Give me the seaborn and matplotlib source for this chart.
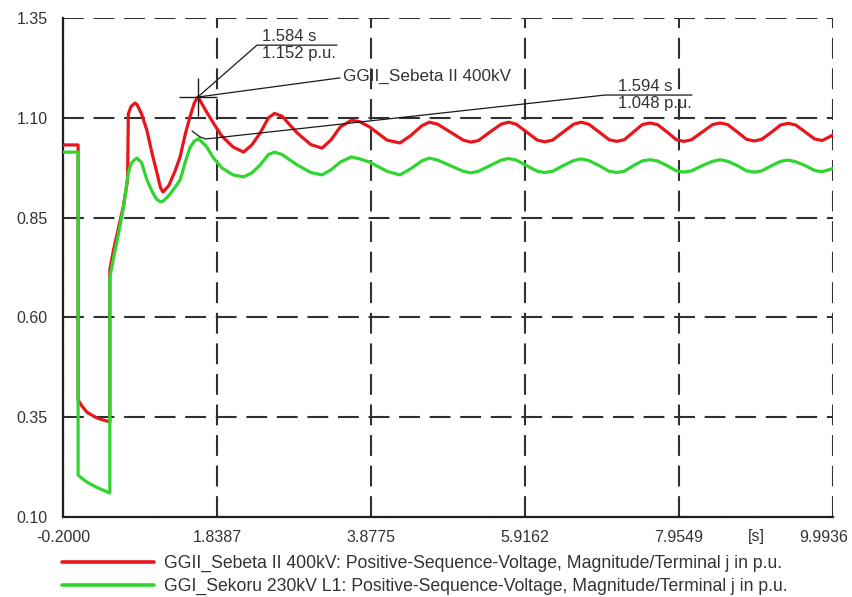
import matplotlib
matplotlib.use("Agg")
import matplotlib.pyplot as plt
from matplotlib.ticker import FixedLocator, FixedFormatter
from matplotlib.transforms import ScaledTranslation
import pandas as pd
import seaborn as sns

# Simulation time [s]
time_s = [
    -0.2, 0.0, 0.0, 0.05, 0.12, 0.25, 0.42, 0.42, 0.47, 0.53, 0.60, 0.655,
    0.665, 0.70, 0.753, 0.78, 0.84, 0.91, 0.98, 1.044, 1.09, 1.124, 1.20, 1.28,
    1.35, 1.42, 1.48, 1.54, 1.584, 1.594, 1.70, 1.79, 1.90, 2.05, 2.19, 2.30,
    2.41, 2.52, 2.60, 2.70, 2.90, 3.08, 3.23, 3.35, 3.47, 3.62, 3.73, 3.86,
    4.09, 4.26, 4.40, 4.55, 4.65, 4.76, 4.93, 5.10, 5.20, 5.30, 5.45, 5.60,
    5.70, 5.80, 5.94, 6.08, 6.18, 6.28, 6.42, 6.56, 6.66, 6.76, 6.90, 7.03,
    7.13, 7.23, 7.35, 7.47, 7.57, 7.67, 7.80, 7.92, 8.02, 8.12, 8.26, 8.40,
    8.50, 8.60, 8.73, 8.85, 8.95, 9.05, 9.18, 9.30, 9.40, 9.50, 9.63, 9.75,
    9.85, 9.9936,
]

# Positive-sequence voltage, GGII Sebeta II 400 kV [p.u.]
sebeta_pu = [
    1.032, 1.032, 0.393, 0.378, 0.362, 0.348, 0.338, 0.720, 0.770, 0.820, 0.880, 0.945,
    1.110, 1.128, 1.137, 1.133, 1.110, 1.069, 1.010, 0.962, 0.925, 0.914, 0.930, 0.965,
    1.002, 1.060, 1.102, 1.138, 1.152, 1.150, 1.115, 1.087, 1.055, 1.027, 1.014, 1.032,
    1.062, 1.100, 1.111, 1.104, 1.062, 1.033, 1.024, 1.045, 1.077, 1.094, 1.090, 1.077,
    1.044, 1.037, 1.055, 1.080, 1.089, 1.084, 1.064, 1.044, 1.039, 1.043, 1.064, 1.084,
    1.089, 1.084, 1.064, 1.044, 1.040, 1.044, 1.064, 1.084, 1.089, 1.084, 1.064, 1.045,
    1.041, 1.045, 1.064, 1.083, 1.087, 1.083, 1.064, 1.045, 1.041, 1.045, 1.064, 1.083,
    1.087, 1.083, 1.064, 1.046, 1.042, 1.046, 1.064, 1.082, 1.086, 1.082, 1.064, 1.047,
    1.043, 1.057,
]

# Positive-sequence voltage, GGI Sekoru 230 kV L1 [p.u.]
sekoru_pu = [
    1.014, 1.014, 0.205, 0.197, 0.187, 0.174, 0.160, 0.700, 0.750, 0.805, 0.875, 0.950,
    0.962, 0.985, 0.996, 0.999, 0.988, 0.945, 0.915, 0.895, 0.890, 0.891, 0.905, 0.925,
    0.944, 0.990, 1.025, 1.042, 1.046, 1.048, 1.028, 1.000, 0.975, 0.957, 0.952, 0.962,
    0.982, 1.008, 1.014, 1.008, 0.982, 0.963, 0.957, 0.970, 0.989, 1.002, 0.997, 0.989,
    0.966, 0.957, 0.972, 0.992, 0.999, 0.994, 0.980, 0.966, 0.962, 0.966, 0.980, 0.994,
    0.998, 0.994, 0.980, 0.966, 0.963, 0.966, 0.980, 0.993, 0.997, 0.993, 0.980, 0.966,
    0.963, 0.966, 0.980, 0.992, 0.995, 0.992, 0.980, 0.967, 0.964, 0.967, 0.980, 0.991,
    0.995, 0.991, 0.980, 0.967, 0.964, 0.967, 0.980, 0.991, 0.994, 0.990, 0.980, 0.968,
    0.965, 0.973,
]

series_names = [
    "GGII_Sebeta II 400kV: Positive-Sequence-Voltage, Magnitude/Terminal j in p.u.",
    "GGI_Sekoru 230kV L1: Positive-Sequence-Voltage, Magnitude/Terminal j in p.u.",
]
series_colors = ["#e8161c", "#30d630"]
sebeta_tag = "GGII_Sebeta II 400kV"

x_ticks = [-0.2, 1.8387, 3.8775, 5.9162, 7.9549, 9.9936]
x_minor_ticks = [0.81935, 2.8581, 4.89685, 6.93555, 8.97425]
x_unit_label = "[s]"
y_ticks = [0.10, 0.35, 0.60, 0.85, 1.10, 1.35]
y_minor_ticks = [0.225, 0.475, 0.725, 0.975, 1.225]

# Cursor readouts
sebeta_peak = (1.584, 1.152)
sekoru_peak = (1.594, 1.048)

sns.set_theme(style="white")
plt.rcParams["font.family"] = ["Liberation Sans", "DejaVu Sans"]
plt.rcParams["lines.scale_dashes"] = False

n = len(time_s)
df = pd.DataFrame({
    "t": time_s + time_s,
    "v": sebeta_pu + sekoru_pu,
    "series": [series_names[0]] * n + [series_names[1]] * n,
})

fig = plt.figure(figsize=(8.52, 5.97), dpi=100)
ax = fig.add_axes([63 / 852, 1 - 517 / 597, 770 / 852, 499 / 597])

sns.lineplot(data=df, x="t", y="v", hue="series", hue_order=series_names,
             palette=series_colors, estimator=None, sort=False,
             linewidth=2.3, ax=ax, legend=True, zorder=3)

ax.set_xlim(x_ticks[0], x_ticks[-1])
ax.set_ylim(y_ticks[0], y_ticks[-1])
ax.set_xlabel("")
ax.set_ylabel("")

ax.xaxis.set_major_locator(FixedLocator(x_ticks))
ax.xaxis.set_major_formatter(FixedFormatter([f"{v:.4f}" for v in x_ticks]))
ax.xaxis.set_minor_locator(FixedLocator(x_minor_ticks))
ax.xaxis.set_minor_formatter(FixedFormatter(["", "", "", "", x_unit_label]))
ax.yaxis.set_major_locator(FixedLocator(y_ticks))
ax.yaxis.set_major_formatter(FixedFormatter([f"{v:.2f}" for v in y_ticks]))
ax.yaxis.set_minor_locator(FixedLocator(y_minor_ticks))

ax.grid(True, which="major", color="#303030", linestyle=(0, (15, 7)),
        linewidth=1.5)
for side in ("top", "right"):
    ax.spines[side].set_visible(False)
for side in ("left", "bottom"):
    ax.spines[side].set_color("#202020")
    ax.spines[side].set_linewidth(1.6)

ax.tick_params(which="major", direction="in", length=8, width=1.3,
               color="#202020", labelcolor="#333333", labelsize=11.5)
ax.tick_params(which="minor", direction="in", length=6, width=1.3,
               color="#202020", labelcolor="#333333", labelsize=11.5)
ax.tick_params(axis="x", which="both", pad=9)
ax.tick_params(axis="y", which="both", pad=11)

# Keep the last time label inside the figure edge
fig.canvas.draw()
last_label = ax.xaxis.get_majorticklabels()[-1]
last_label.set_transform(last_label.get_transform()
                         + ScaledTranslation(-0.09, 0, fig.dpi_scale_trans))

# Cursor on the 400 kV peak
ann_kw = dict(color="#1a1a1a", linewidth=0.9, clip_on=False, zorder=5)
ax.plot(*sebeta_peak, marker="+", markersize=27, markeredgewidth=1.0,
        color="#1a1a1a", zorder=5)
ax.plot([sebeta_peak[0], 2.368, 3.427], [sebeta_peak[1], 1.282, 1.282], **ann_kw)
ax.plot([sebeta_peak[0], 3.467], [sebeta_peak[1], 1.200], **ann_kw)
ax.text(2.434, 1.284, f"{sebeta_peak[0]:.3f} s", fontsize=12, color="#333333",
        ha="left", va="bottom")
ax.text(2.434, 1.279, f"{sebeta_peak[1]:.3f} p.u.", fontsize=12, color="#333333",
        ha="left", va="top")
ax.text(3.507, 1.204, sebeta_tag, fontsize=12.3, color="#333333",
        ha="left", va="center")

# Cursor on the 230 kV peak
ax.plot([1.508, 1.614, sekoru_peak[0] + 0.1, 6.975, 8.127],
        [1.067, 1.052, sekoru_peak[1] - 0.001, 1.157, 1.157], **ann_kw)
ax.text(7.147, 1.159, f"{sekoru_peak[0]:.3f} s", fontsize=12, color="#333333",
        ha="left", va="bottom")
ax.text(7.147, 1.154, f"{sekoru_peak[1]:.3f} p.u.", fontsize=12, color="#333333",
        ha="left", va="top")

handles, labels = ax.get_legend_handles_labels()
ax.get_legend().remove()
for h in handles:
    h.set_linewidth(2.6)
fig.legend(handles, labels, loc="upper left",
           bbox_to_anchor=(62 / 852, 1 - 555 / 597),
           bbox_transform=fig.transFigure, frameon=False, fontsize=12.7,
           handlelength=5.2, handletextpad=0.6, labelspacing=0.33,
           borderpad=0, borderaxespad=0, labelcolor="#333333")

fig.savefig("out.png", dpi=100, facecolor="white")
